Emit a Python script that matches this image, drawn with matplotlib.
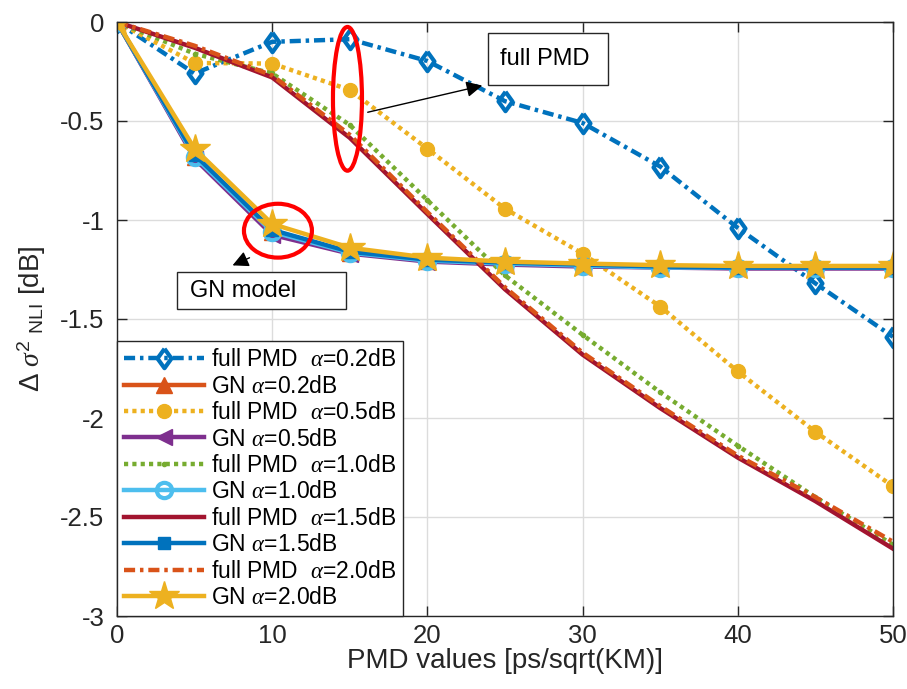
import matplotlib
matplotlib.use('Agg')
import matplotlib.pyplot as plt
from matplotlib.patches import Ellipse, Rectangle

# ---- data ----
pmd = [0, 5, 10, 15, 20, 25, 30, 35, 40, 45, 50]
full_02 = [0, -0.26, -0.10, -0.087, -0.197, -0.40, -0.51, -0.73, -1.04, -1.32, -1.59]
gn_02 = [0, -0.68, -1.06, -1.165, -1.205, -1.22, -1.23, -1.235, -1.24, -1.24, -1.24]
full_05 = [0, -0.207, -0.21, -0.343, -0.64, -0.943, -1.17, -1.437, -1.765, -2.07, -2.345]
gn_05 = [0, -0.69, -1.075, -1.17, -1.21, -1.225, -1.235, -1.24, -1.245, -1.245, -1.245]
full_10 = [0, -0.16, -0.26, -0.52, -0.90, -1.28, -1.58, -1.87, -2.14, -2.40, -2.64]
gn_10 = [0, -0.68, -1.06, -1.165, -1.205, -1.22, -1.23, -1.24, -1.24, -1.24, -1.24]
full_15 = [0, -0.13, -0.28, -0.585, -0.97, -1.35, -1.68, -1.95, -2.20, -2.42, -2.66]
gn_15 = [0, -0.67, -1.05, -1.16, -1.20, -1.215, -1.225, -1.235, -1.24, -1.24, -1.24]
full_20 = [0, -0.12, -0.27, -0.57, -0.96, -1.34, -1.67, -1.94, -2.19, -2.40, -2.625]
gn_20 = [0, -0.64, -1.02, -1.14, -1.19, -1.21, -1.22, -1.228, -1.232, -1.232, -1.232]

labels = ['full PMD  $\\alpha$=0.2dB', 'GN $\\alpha$=0.2dB',
          'full PMD  $\\alpha$=0.5dB', 'GN $\\alpha$=0.5dB',
          'full PMD  $\\alpha$=1.0dB', 'GN $\\alpha$=1.0dB',
          'full PMD  $\\alpha$=1.5dB', 'GN $\\alpha$=1.5dB',
          'full PMD  $\\alpha$=2.0dB', 'GN $\\alpha$=2.0dB']
xticks = [0, 10, 20, 30, 40, 50]
yticks = [-3, -2.5, -2, -1.5, -1, -0.5, 0]
ytick_labels = ['-3', '-2.5', '-2', '-1.5', '-1', '-0.5', '0']

# ---- style ----
plt.rcParams['font.family'] = ['Liberation Sans', 'DejaVu Sans']
plt.rcParams['mathtext.fontset'] = 'custom'
plt.rcParams['mathtext.rm'] = 'Liberation Sans'
plt.rcParams['mathtext.it'] = 'Liberation Serif:italic'
plt.rcParams['axes.unicode_minus'] = False
plt.rcParams['lines.scale_dashes'] = False

C_BLUE = '#0072BD'
C_ORANGE = '#D95319'
C_YELLOW = '#EDB120'
C_PURPLE = '#7E2F8E'
C_GREEN = '#77AC30'
C_LBLUE = '#4DBEEE'
C_RED = '#A2142F'

DASHDOT = (8, 3.5, 2.5, 3.5)
DOT = (3, 3)
diamond = [(0, 1), (0.72, 0), (0, -1), (-0.72, 0), (0, 1)]

series = [
    (full_02, dict(color=C_BLUE, dashes=DASHDOT, marker=diamond, ms=14, mfc='none', mew=3)),
    (gn_02, dict(color=C_ORANGE, ls='-', marker='^', ms=12, mfc=C_ORANGE)),
    (full_05, dict(color=C_YELLOW, dashes=DOT, marker='o', ms=10, mfc=C_YELLOW)),
    (gn_05, dict(color=C_PURPLE, ls='-', marker='<', ms=12, mfc=C_PURPLE)),
    (full_10, dict(color=C_GREEN, dashes=DOT, marker='.', ms=6, mfc=C_GREEN)),
    (gn_10, dict(color=C_LBLUE, ls='-', marker='o', ms=11, mfc='none', mew=3)),
    (full_15, dict(color=C_RED, ls='-')),
    (gn_15, dict(color=C_BLUE, ls='-', marker='s', ms=9, mfc=C_BLUE)),
    (full_20, dict(color=C_ORANGE, dashes=DASHDOT)),
    (gn_20, dict(color=C_YELLOW, ls='-', marker='*', ms=22, mfc=C_YELLOW)),
]

fig = plt.figure(figsize=(9.07, 6.89), dpi=100)
ax = fig.add_axes([117/907, 73/689, 776/907, 594/689])

for (vals, st), lab in zip(series, labels):
    ax.plot(pmd, vals, lw=3.2, label=lab, **st)

ax.set_xlim(0, 50)
ax.set_ylim(-3, 0)
ax.set_xticks(xticks)
ax.set_yticks(yticks)
ax.set_yticklabels(ytick_labels)
ax.tick_params(direction='in', top=True, right=True, labelsize=18.5,
               length=7, width=1, colors='#262626', labelcolor='#262626')
ax.tick_params(axis='y', pad=9)
ax.tick_params(axis='x', pad=6)
ax.grid(True, color='#dcdcdc', lw=1)
ax.set_axisbelow(True)
for sp in ax.spines.values():
    sp.set_color('#262626')
    sp.set_linewidth(1)

ax.set_xlabel('PMD values [ps/sqrt(KM)]', fontsize=20, color='#262626', labelpad=0)
ax.set_ylabel('$\\Delta\\ \\sigma^{2}\\ {}_{\\mathrm{NLI}}$ [dB]', fontsize=20,
              color='#262626', labelpad=9)

leg = ax.legend(loc='lower left', borderaxespad=0, fontsize=16.5, numpoints=1,
                handlelength=3.5, handletextpad=0.3, labelspacing=0.15,
                fancybox=False, framealpha=1, edgecolor='#262626',
                borderpad=0.3)
leg.get_frame().set_linewidth(1)

# annotations
ax.add_patch(Ellipse((14.85, -0.388), width=1.87, height=0.726, fill=False,
                     ec='red', lw=3, zorder=6))
ax.add_patch(Ellipse((10.37, -1.054), width=4.38, height=0.272, fill=False,
                     ec='red', lw=3, zorder=6))

ax.add_patch(Rectangle((23.9, -0.318), 7.73, 0.263, fill=True, fc='white',
                       ec='#262626', lw=1, zorder=6))
ax.text(24.7, -0.187, 'full PMD', fontsize=17, va='center', ha='left', zorder=7)
ax.add_patch(Rectangle((3.87, -1.452), 10.89, 0.191, fill=True, fc='white',
                       ec='#262626', lw=1, zorder=6))
ax.text(4.7, -1.357, 'GN model', fontsize=17, va='center', ha='left', zorder=7)

ax.annotate('', xy=(23.71, -0.318), xytext=(15.98, -0.459),
            arrowprops=dict(arrowstyle='-|>', color='k', lw=1, mutation_scale=24),
            zorder=7)
ax.annotate('', xy=(7.28, -1.235), xytext=(8.70, -1.185),
            arrowprops=dict(arrowstyle='-|>', color='k', lw=1, mutation_scale=24),
            zorder=7)

fig.savefig('out.png', dpi=100)
